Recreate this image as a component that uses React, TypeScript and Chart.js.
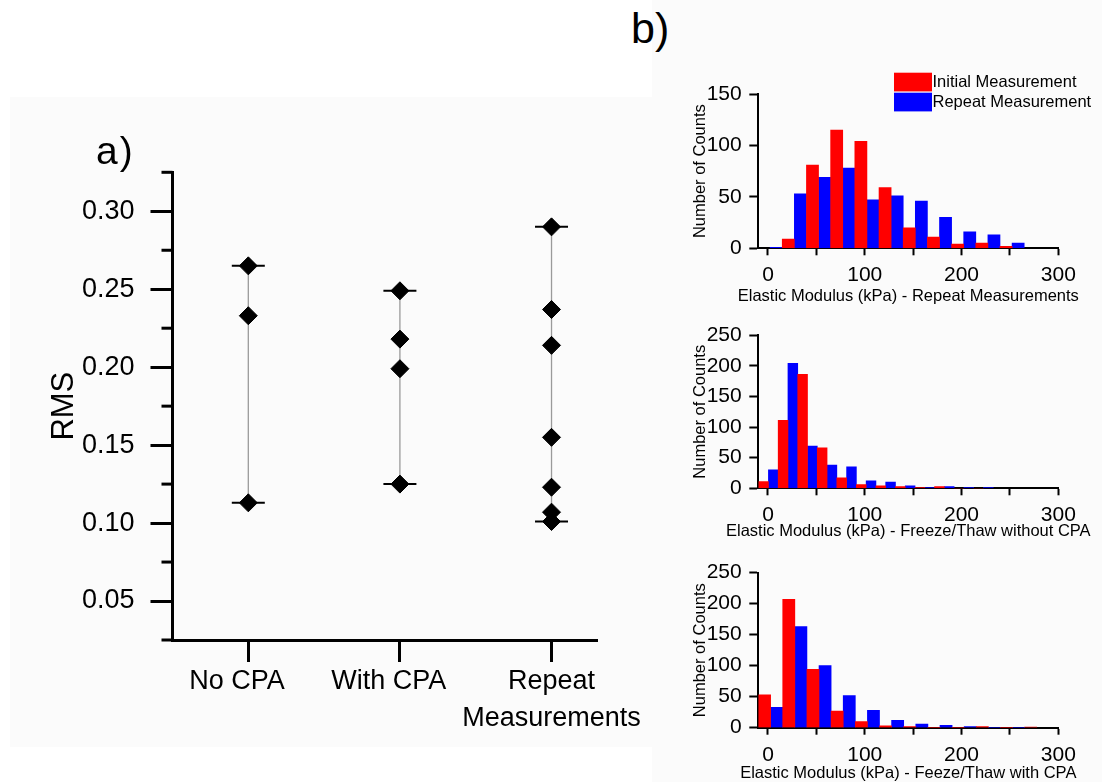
import React, { useEffect, useRef } from 'react';
import { Chart, registerables } from 'chart.js';

Chart.register(...registerables);

const FONT = "'Liberation Sans', Arial, Helvetica, sans-serif";
Chart.defaults.font.family = FONT;
Chart.defaults.color = '#000';

// ---------- Panel a) data ----------
const rmsCategories: (string | string[])[] = ['No CPA', 'With CPA', ['Repeat', 'Measurements']];
const rmsCategoryPositions = [1, 2, 3];
const rmsNoCpa = [0.265, 0.233, 0.113];
const rmsWithCpa = [0.249, 0.218, 0.199, 0.125];
const rmsRepeat = [0.29, 0.237, 0.214, 0.155, 0.123, 0.107, 0.101];
const rmsYTicks = [0.025, 0.05, 0.075, 0.1, 0.125, 0.15, 0.175, 0.2, 0.225, 0.25, 0.275, 0.3, 0.325];

// ---------- Panel b) data ----------
const seriesLabels = ['Initial Measurement', 'Repeat Measurement'];
const histXTicks = [0, 50, 100, 150, 200, 250, 300];
const hist1YTicks = [0, 25, 50, 75, 100, 125, 150];
const hist23YTicks = [0, 50, 100, 150, 200, 250];

// Repeat measurements
const h1InitialX = [21, 46, 71, 96, 121, 146, 171, 196, 221, 246];
const h1InitialY = [9, 81, 115, 104, 59, 20, 11, 4, 5, 2];
const h1RepeatX = [8.5, 33.5, 58.5, 83.5, 108.5, 133.5, 158.5, 183.5, 208.5, 233.5, 258.5];
const h1RepeatY = [1, 53, 69, 78, 47, 51, 46, 30, 16, 13, 5];

// Freeze/Thaw without CPA
const h2InitialX = [-4.6, 15.6, 35.8, 56, 76.2, 96.4, 116.6, 136.8, 157, 177.2, 197.4, 217.6];
const h2InitialY = [11, 111, 186, 66, 17, 6, 4, 3, 1, 3, 0, 0];
const h2RepeatX = [5.5, 25.7, 45.9, 66.1, 86.3, 106.5, 126.7, 146.9, 167.1, 187.3, 207.5, 227.7];
const h2RepeatY = [30, 204, 69, 38, 35, 12, 10, 4, 1, 3, 1, 1];

// Freeze/Thaw with CPA
const h3InitialX = [-3.5, 21.5, 46.5, 71.5, 96.5, 121.5, 146.5, 171.5, 196.5, 221.5, 246.5, 271.5];
const h3InitialY = [53, 207, 94, 27, 10, 3, 2, 0, 0, 2, 0, 1];
const h3RepeatX = [9, 34, 59, 84, 109, 134, 159, 184, 209, 234, 259];
const h3RepeatY = [33, 163, 100, 52, 28, 12, 6, 4, 2, 0, 0];

const isMajorRms = (v: number) => Math.round(v * 1000) % 50 === 0;

const minorTickPlugin = {
  id: 'minorTicks',
  afterDraw(chart: any) {
    const y = chart.scales.y;
    const { ctx, chartArea } = chart;
    ctx.save();
    ctx.strokeStyle = '#000';
    ctx.lineWidth = 3;
    rmsYTicks.filter((v) => !isMajorRms(v)).forEach((v) => {
      const py = y.getPixelForValue(v);
      ctx.beginPath();
      ctx.moveTo(chartArea.left - 11, py);
      ctx.lineTo(chartArea.left, py);
      ctx.stroke();
    });
    ctx.restore();
  },
};

function RmsPanel() {
  const ref = useRef<HTMLCanvasElement>(null);
  useEffect(() => {
    const groups = [rmsNoCpa, rmsWithCpa, rmsRepeat];
    const diamonds = groups.flatMap((g, i) => g.map((v) => ({ x: rmsCategoryPositions[i], y: v })));
    const caps = groups.flatMap((g, i) => [
      { x: rmsCategoryPositions[i], y: Math.min(...g) },
      { x: rmsCategoryPositions[i], y: Math.max(...g) },
    ]);
    const ranges: any[] = groups.map((g, i) => ({
      type: 'line',
      data: [
        { x: rmsCategoryPositions[i], y: Math.min(...g) },
        { x: rmsCategoryPositions[i], y: Math.max(...g) },
      ],
      borderColor: '#9a9a9a',
      borderWidth: 1.3,
      pointRadius: 0,
      order: 3,
    }));
    const chart = new Chart(ref.current as HTMLCanvasElement, {
      type: 'scatter',
      data: {
        datasets: [
          ...ranges,
          {
            type: 'scatter',
            data: caps,
            pointStyle: 'line',
            pointRadius: 16.5,
            pointBorderColor: '#000',
            pointBorderWidth: 2,
            borderColor: '#000',
            borderWidth: 2,
            order: 2,
          },
          {
            type: 'scatter',
            data: diamonds,
            pointStyle: 'rectRot',
            pointRadius: 9,
            pointBackgroundColor: '#000',
            pointBorderColor: '#000',
            pointBorderWidth: 1,
            backgroundColor: '#000',
            borderColor: '#000',
            order: 1,
          },
        ],
      },
      options: {
        responsive: false,
        animation: false,
        events: [],
        layout: { padding: { top: 82.3, right: 63, left: 0, bottom: 0 } },
        plugins: { legend: { display: false }, tooltip: { enabled: false } },
        scales: {
          x: {
            type: 'linear',
            min: 0.5,
            max: 3.3,
            offset: false,
            afterBuildTicks: (s: any) => {
              s.ticks = rmsCategoryPositions.map((v) => ({ value: v }));
            },
            afterFit: (s: any) => {
              s.height = 110;
            },
            ticks: {
              autoSkip: false,
              maxRotation: 0,
              minRotation: 0,
              padding: 1,
              color: '#000',
              font: { family: FONT, size: 27, lineHeight: 1.36 },
              callback: (v: any) => {
                const lab = rmsCategories[rmsCategoryPositions.indexOf(Number(v))];
                return typeof lab === 'string' ? lab + '   ' : lab;
              },
            },
            grid: {
              drawOnChartArea: false,
              drawTicks: true,
              offset: false,
              tickLength: 22,
              tickWidth: 3,
              tickColor: '#000',
            },
            border: { display: true, color: '#000', width: 3 },
          },
          y: {
            type: 'linear',
            min: 0.025,
            max: 0.325,
            afterBuildTicks: (s: any) => {
              s.ticks = rmsYTicks.map((v) => ({ value: v }));
            },
            afterFit: (s: any) => {
              s.width = 172.5;
            },
            ticks: {
              padding: 16,
              color: '#000',
              font: { family: FONT, size: 27 },
              callback: (v: any) => (isMajorRms(Number(v)) ? Number(v).toFixed(2) : ''),
            },
            grid: {
              drawOnChartArea: false,
              tickLength: 22,
              tickWidth: 3,
              tickColor: (c: any) => (c.tick && isMajorRms(c.tick.value) ? '#000' : 'rgba(0,0,0,0)'),
            },
            border: { display: true, color: '#000', width: 3 },
            title: {
              display: true,
              text: 'RMS',
              color: '#000',
              font: { family: FONT, size: 31, lineHeight: 1.2 },
              padding: { top: 45.4, bottom: 0 },
            },
          },
        },
      } as any,
      plugins: [minorTickPlugin],
    });
    return () => chart.destroy();
  }, []);
  return (
    <canvas
      ref={ref}
      width={660}
      height={660}
      style={{ position: 'absolute', left: 0, top: 90, width: 660, height: 660 }}
    />
  );
}

const legendPlugin = {
  id: 'boxLegend',
  afterDraw(chart: any) {
    const { ctx, chartArea } = chart;
    const x0 = chartArea.right - 164.3;
    const y0 = chartArea.top - 21.3;
    ctx.save();
    chart.data.datasets.forEach((ds: any, i: number) => {
      const top = y0 + i * 20;
      ctx.fillStyle = ds.backgroundColor;
      ctx.fillRect(x0, top, 38, 18.7);
      ctx.fillStyle = '#000';
      ctx.font = `16.5px ${FONT}`;
      ctx.textBaseline = 'middle';
      ctx.textAlign = 'left';
      ctx.fillText(ds.label, x0 + 38.5, top + 9.8);
    });
    ctx.restore();
  },
};

// x-axis title drawn without the width limit Chart.js applies to scale titles
const xTitlePlugin = {
  id: 'xTitle',
  afterDraw(chart: any, _args: any, opts: any) {
    const { ctx, chartArea } = chart;
    ctx.save();
    ctx.fillStyle = '#000';
    ctx.font = `16.5px ${FONT}`;
    ctx.textAlign = 'center';
    ctx.textBaseline = 'middle';
    ctx.fillText(opts.text, (chartArea.left + chartArea.right) / 2, chart.height - 8.25 - opts.padBottom);
    ctx.restore();
  },
};

type HistProps = {
  top: number;
  height: number;
  padTop: number;
  xAxisHeight: number;
  titlePadBottom: number;
  xTickPad: number;
  initialX: number[];
  initialY: number[];
  repeatX: number[];
  repeatY: number[];
  yTicks: number[];
  yLabelEvery: number;
  xTitle: string;
  legend?: boolean;
};

function Histogram(p: HistProps) {
  const ref = useRef<HTMLCanvasElement>(null);
  useEffect(() => {
    const yMax = p.yTicks[p.yTicks.length - 1];
    const chart = new Chart(ref.current as HTMLCanvasElement, {
      type: 'bar',
      data: {
        datasets: [
          {
            label: seriesLabels[0],
            data: p.initialX.map((x, i) => ({ x, y: p.initialY[i] })),
            backgroundColor: '#ff0000',
            borderWidth: 0,
            grouped: false,
            barPercentage: 1,
            categoryPercentage: 1,
          },
          {
            label: seriesLabels[1],
            data: p.repeatX.map((x, i) => ({ x, y: p.repeatY[i] })),
            backgroundColor: '#0000ff',
            borderWidth: 0,
            grouped: false,
            barPercentage: 1,
            categoryPercentage: 1,
          },
        ],
      },
      options: {
        responsive: false,
        animation: false,
        events: [],
        layout: { padding: { top: p.padTop, right: 43.7, left: 0, bottom: 0 } },
        plugins: {
          legend: { display: false },
          tooltip: { enabled: false },
          xTitle: { text: p.xTitle, padBottom: p.titlePadBottom },
        },
        scales: {
          x: {
            type: 'linear',
            min: -10,
            max: 300,
            offset: false,
            afterBuildTicks: (s: any) => {
              s.ticks = histXTicks.map((v) => ({ value: v }));
            },
            afterFit: (s: any) => {
              s.height = p.xAxisHeight;
            },
            ticks: {
              autoSkip: false,
              maxRotation: 0,
              minRotation: 0,
              padding: p.xTickPad,
              color: '#000',
              font: { family: FONT, size: 21, lineHeight: 1.2 },
              callback: (v: any) => (Number(v) % 100 === 0 ? String(v) : ''),
            },
            grid: {
              drawOnChartArea: false,
              offset: false,
              tickLength: 7,
              tickWidth: 2,
              tickColor: '#000',
            },
            border: { display: true, color: '#000', width: 2 },
          },
          y: {
            type: 'linear',
            min: 0,
            max: yMax,
            afterBuildTicks: (s: any) => {
              s.ticks = p.yTicks.map((v) => ({ value: v }));
            },
            afterFit: (s: any) => {
              s.width = 68.3;
            },
            ticks: {
              padding: 7.6,
              color: '#000',
              font: { family: FONT, size: 21 },
              callback: (v: any) => (Number(v) % p.yLabelEvery === 0 ? String(v) : ''),
            },
            grid: {
              drawOnChartArea: false,
              tickLength: 9,
              tickWidth: 2,
              tickColor: '#000',
            },
            border: { display: true, color: '#000', width: 2 },
            title: {
              display: true,
              text: 'Number of Counts',
              color: '#000',
              font: { family: FONT, size: 16.5, lineHeight: 1 },
              padding: { top: 1.75, bottom: 0 },
            },
          },
        },
      } as any,
      plugins: p.legend ? [xTitlePlugin, legendPlugin] : [xTitlePlugin],
    });
    return () => chart.destroy();
  }, []);
  return (
    <canvas
      ref={ref}
      width={412}
      height={p.height}
      style={{ position: 'absolute', left: 690, top: p.top, width: 412, height: p.height }}
    />
  );
}

export default function App() {
  return (
    <div
      style={{
        position: 'absolute',
        left: 0,
        top: 0,
        width: 1102,
        height: 782,
        background: '#ffffff',
        overflow: 'hidden',
        fontFamily: FONT,
      }}
    >
      <div style={{ position: 'absolute', left: 10, top: 97, width: 642, height: 650, background: '#fbfbfb' }} />
      <div style={{ position: 'absolute', left: 652, top: 0, width: 450, height: 782, background: '#fbfbfb' }} />
      <RmsPanel />
      <span
        style={{
          position: 'absolute',
          left: 96,
          top: 131,
          fontSize: 39,
          lineHeight: '39px',
          letterSpacing: 2,
          color: '#000',
          whiteSpace: 'nowrap',
        }}
      >
        a)
      </span>
      <span
        style={{ position: 'absolute', left: 631, top: 7, fontSize: 43, lineHeight: '43px', color: '#000', whiteSpace: 'nowrap' }}
      >
        b)
      </span>
      <Histogram
        top={60}
        height={250}
        padTop={34}
        xAxisHeight={61.7}
        titlePadBottom={5.75}
        xTickPad={7}
        initialX={h1InitialX}
        initialY={h1InitialY}
        repeatX={h1RepeatX}
        repeatY={h1RepeatY}
        yTicks={hist1YTicks}
        yLabelEvery={50}
        xTitle="Elastic Modulus (kPa) - Repeat Measurements"
        legend
      />
      <Histogram
        top={315}
        height={230}
        padTop={18.3}
        xAxisHeight={56.7}
        titlePadBottom={5}
        xTickPad={7}
        initialX={h2InitialX}
        initialY={h2InitialY}
        repeatX={h2RepeatX}
        repeatY={h2RepeatY}
        yTicks={hist23YTicks}
        yLabelEvery={50}
        xTitle="Elastic Modulus (kPa) - Freeze/Thaw without CPA"
      />
      <Histogram
        top={545}
        height={237}
        padTop={27.7}
        xAxisHeight={54.3}
        titlePadBottom={0}
        xTickPad={7.7}
        initialX={h3InitialX}
        initialY={h3InitialY}
        repeatX={h3RepeatX}
        repeatY={h3RepeatY}
        yTicks={hist23YTicks}
        yLabelEvery={50}
        xTitle="Elastic Modulus (kPa) - Feeze/Thaw with CPA"
      />
    </div>
  );
}
